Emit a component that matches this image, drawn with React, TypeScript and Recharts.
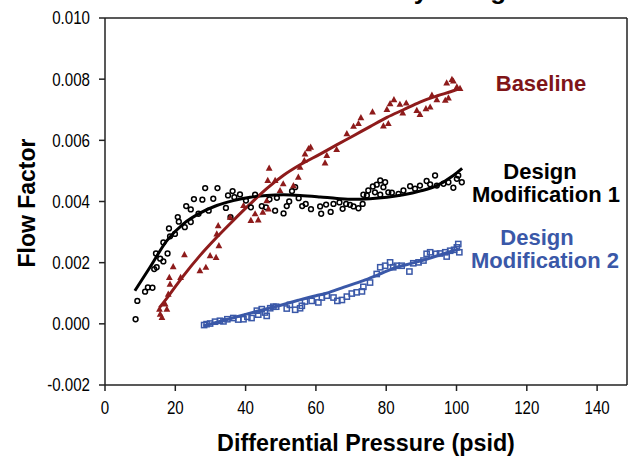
import React from "react";
import { ComposedChart, Line, ReferenceLine, Scatter, XAxis, YAxis } from "recharts";

const RED = "#8E1B1B";
const RED_TEXT = "#7F1518";
const BLUE = "#3A58A8";
const BLACK = "#000000";

const xTicks = [0, 20, 40, 60, 80, 100, 120, 140];
const yTicks = [-0.002, 0, 0.002, 0.004, 0.006, 0.008, 0.01];

// [differential pressure (psid), flow factor x 1000]
const baselinePoints = [
  [15.5, 0.48], [15.7, 0.32], [16.2, 0.21], [17.1, 0.65], [17.6, 0.48], [18.0, 0.97],
  [18.3, 1.52], [18.5, 1.3], [19.4, 1.87], [21.5, 1.52], [22.6, 2.26], [27.0, 1.74],
  [28.7, 1.85], [29.9, 2.23], [31.6, 2.17], [31.8, 2.94], [32.2, 3.21], [32.4, 2.56],
  [35.6, 3.49], [39.4, 3.87], [41.5, 3.38], [42.7, 3.6], [43.6, 3.4], [44.9, 3.65],
  [46.0, 4.03], [46.3, 4.69], [46.5, 3.76], [46.7, 5.09], [48.4, 4.69], [49.8, 4.36],
  [50.7, 4.58], [53.6, 4.52], [55.0, 4.8], [55.5, 5.12], [56.7, 5.34], [56.9, 5.56],
  [57.9, 5.73], [58.5, 5.78], [62.6, 5.26], [63.1, 5.51], [65.9, 5.7], [68.8, 6.22],
  [70.7, 6.46], [72.1, 6.55], [72.8, 6.74], [76.1, 6.93], [79.2, 6.47], [80.2, 7.01],
  [80.6, 6.55], [81.1, 7.2], [82.2, 7.33], [83.9, 7.18], [84.7, 6.9], [85.7, 7.22],
  [88.7, 6.98], [89.6, 6.85], [91.3, 7.04], [92.5, 7.09], [93.0, 7.48], [94.4, 7.33],
  [96.8, 7.31], [97.2, 7.88], [97.7, 7.39], [98.7, 7.99], [99.1, 7.94], [100.1, 7.75],
  [101.0, 7.7],
];

const mod1Points = [
  [8.7, 0.15], [9.2, 0.75], [11.4, 1.05], [12.2, 1.19], [13.5, 1.18], [14.0, 1.79],
  [14.5, 2.3], [14.7, 1.85], [15.7, 2.13], [16.6, 2.04], [16.6, 2.66], [17.8, 2.3],
  [18.2, 3.12], [18.5, 2.86], [19.9, 2.94], [20.7, 3.49], [21.0, 3.34], [22.7, 3.16],
  [23.1, 3.85], [24.4, 3.74], [24.4, 3.33], [25.3, 4.08], [26.6, 3.6], [27.7, 4.06],
  [28.5, 4.44], [29.5, 3.7], [30.8, 4.09], [32.0, 4.44], [34.4, 3.79], [35.0, 4.2],
  [35.7, 3.49], [36.3, 4.34], [36.8, 4.14], [38.4, 4.23], [40.1, 4.03], [41.5, 3.81],
  [42.7, 4.22], [44.6, 3.85], [45.8, 3.81], [46.8, 4.07], [48.4, 3.7], [48.9, 4.12],
  [50.8, 3.61], [51.7, 3.85], [52.4, 4.0], [53.2, 4.34], [54.1, 4.47], [55.1, 4.11],
  [56.1, 3.85], [57.1, 3.92], [58.6, 3.75], [61.2, 3.84], [61.5, 3.6], [62.9, 3.9],
  [64.2, 3.66], [65.0, 3.92], [66.7, 3.97], [67.6, 3.76], [68.6, 3.92], [69.7, 3.89],
  [70.7, 3.84], [72.1, 3.78], [73.3, 3.92], [73.5, 4.22], [74.5, 4.2], [74.9, 4.36],
  [76.2, 4.49], [76.8, 4.3], [77.3, 4.55], [78.3, 4.69], [78.3, 4.22], [79.2, 4.47],
  [79.7, 4.63], [80.6, 4.3], [81.6, 4.29], [83.5, 4.25], [84.9, 4.36], [86.8, 4.5],
  [88.2, 4.42], [89.6, 4.52], [91.5, 4.67], [92.5, 4.56], [93.9, 4.85], [94.4, 4.52],
  [96.3, 4.58], [97.7, 4.63], [99.1, 4.45], [100.1, 4.74], [100.5, 4.85], [101.5, 4.63],
];

const mod2Points = [
  [28.2, -0.04], [28.9, -0.01], [29.9, 0.01], [31.3, 0.07], [32.7, 0.1], [33.7, 0.08],
  [34.8, 0.15], [36.5, 0.19], [37.9, 0.14], [39.4, 0.15], [40.5, 0.23], [41.7, 0.19],
  [43.2, 0.43], [43.6, 0.3], [44.6, 0.48], [45.5, 0.37], [46.0, 0.26], [47.0, 0.51],
  [47.9, 0.56], [48.7, 0.56], [51.7, 0.5], [52.6, 0.62], [54.1, 0.46], [55.5, 0.51],
  [56.0, 0.59], [56.9, 0.73], [58.8, 0.75], [60.7, 0.7], [61.7, 0.86], [63.1, 0.92],
  [65.0, 0.86], [66.1, 0.75], [67.4, 0.78], [68.8, 0.89], [70.2, 0.99], [71.6, 1.03],
  [73.1, 1.06], [73.5, 1.21], [75.4, 1.35], [77.3, 1.63], [78.3, 1.85], [79.7, 1.9],
  [81.1, 2.01], [82.0, 1.85], [83.0, 1.9], [84.4, 1.9], [86.6, 1.71], [87.7, 1.98],
  [89.2, 2.01], [90.6, 2.07], [91.5, 2.29], [92.5, 2.34], [94.2, 2.29], [95.3, 2.3],
  [96.8, 2.34], [97.2, 2.2], [98.2, 2.39], [99.3, 2.42], [100.1, 2.5], [100.5, 2.61],
  [100.8, 2.34],
];

// fitted trend curves
const baselineFit = [
  [15.5, 0.53], [18, 0.9], [22.3, 1.57], [27, 2.23], [31.8, 2.83], [36.5, 3.38],
  [41.3, 3.92], [46, 4.42], [50.7, 4.85], [55.5, 5.2], [61.2, 5.55], [65.9, 5.85],
  [70.7, 6.15], [75.4, 6.45], [80.2, 6.75], [84.9, 7.0], [89.6, 7.25], [94.4, 7.45],
  [99.1, 7.62], [101, 7.7],
];

const mod1Fit = [
  [8.5, 1.08], [12.8, 1.85], [17.6, 2.72], [22.3, 3.27], [27, 3.62], [31.8, 3.87],
  [36.5, 4.03], [41.3, 4.14], [46, 4.2], [50.7, 4.22], [55.5, 4.2], [61.2, 4.15],
  [66, 4.1], [70.7, 4.07], [75.4, 4.09], [80.2, 4.14], [84.9, 4.22], [89.6, 4.34],
  [94.4, 4.52], [99.1, 4.85], [101.6, 5.08],
];

const mod2Fit = [
  [28, -0.07], [35, 0.15], [40, 0.31], [45, 0.46], [50, 0.61], [55, 0.77], [60, 0.92],
  [63, 1.0], [68, 1.2], [73.5, 1.41], [78, 1.62], [83, 1.85], [88, 2.0], [93, 2.17],
  [97, 2.32], [100.7, 2.45],
];

const toRows = (pts: number[][]) => pts.map(([x, y]) => ({ x, y: y / 1000 }));

const Triangle = ({ cx, cy }: any) => (
  <polygon
    points={`${cx},${cy - 3.6} ${cx - 3.4},${cy + 2.6} ${cx + 3.4},${cy + 2.6}`}
    fill={RED}
  />
);

const Ring = ({ cx, cy }: any) => (
  <circle cx={cx} cy={cy} r={2.4} fill="none" stroke={BLACK} strokeWidth={1.5} />
);

const Square = ({ cx, cy }: any) => (
  <rect x={cx - 2.6} y={cy - 2.6} width={5.2} height={5.2} fill="none" stroke={BLUE} strokeWidth={1.5} />
);

const tickFont = "'Liberation Sans Narrow', 'Arial Narrow', Arial, sans-serif";
const bold = { fontFamily: "'Liberation Sans', Arial, sans-serif", fontWeight: 700 };

// narrow-looking tick labels like the original
const XTick = ({ x, y, payload }: any) => (
  <g transform={`translate(${x},${y})`}>
    <text x={0} y={0} dy="0.75em" textAnchor="middle" fontSize={18} fontFamily={tickFont} transform="scale(0.84,1)">
      {payload.value}
    </text>
  </g>
);

const YTick = ({ x, y, payload }: any) => (
  <g transform={`translate(${x},${y})`}>
    <text x={0} y={0} dy="0.36em" textAnchor="end" fontSize={18} fontFamily={tickFont} transform="scale(0.84,1)">
      {Number(payload.value).toFixed(3)}
    </text>
  </g>
);

const App = () => {
  return (
    <div style={{ position: "absolute", left: 0, top: 0, width: 631, height: 460, background: "#fff" }}>
      <ComposedChart width={631} height={460} margin={{ top: 18, right: 4, bottom: 25, left: 45 }}>
        <XAxis
          type="number"
          dataKey="x"
          domain={[0, 148.5]}
          ticks={xTicks}
          allowDataOverflow
          height={50}
          tick={<XTick />}
          tickSize={6}
          tickMargin={9}
          stroke="#222"
          strokeWidth={1.5}
        />
        <YAxis
          type="number"
          dataKey="y"
          domain={[-0.002, 0.01]}
          ticks={yTicks}
          width={60}
          tick={<YTick />}
          tickSize={6}
          tickMargin={9}
          stroke="#222"
          strokeWidth={1.5}
        />
        <ReferenceLine y={0.01} stroke="#222" strokeWidth={1.5} />
        <ReferenceLine x={148.5} stroke="#222" strokeWidth={1.5} />
        <Scatter data={toRows(mod2Points)} dataKey="y" shape={<Square />} isAnimationActive={false} />
        <Scatter data={toRows(mod1Points)} dataKey="y" shape={<Ring />} isAnimationActive={false} />
        <Scatter data={toRows(baselinePoints)} dataKey="y" shape={<Triangle />} isAnimationActive={false} />
        <Line data={toRows(mod2Fit)} dataKey="y" type="monotone" stroke={BLUE} strokeWidth={3} dot={false} isAnimationActive={false} />
        <Line data={toRows(mod1Fit)} dataKey="y" type="monotone" stroke={BLACK} strokeWidth={3} dot={false} isAnimationActive={false} />
        <Line data={toRows(baselineFit)} dataKey="y" type="monotone" stroke={RED} strokeWidth={3} dot={false} isAnimationActive={false} />
      </ComposedChart>
      <svg width={631} height={460} style={{ position: "absolute", left: 0, top: 0, pointerEvents: "none" }}>
        {/* title is cropped at the top edge in the original */}
        <text x={522} y={-1} textAnchor="end" fontSize={26} {...bold}>Flow Factor by Design</text>
        <text x={27} y={203} transform="rotate(-90 27 203)" textAnchor="middle" dominantBaseline="central" fontSize={23} {...bold}>
          Flow Factor
        </text>
        <text x={366} y={451} textAnchor="middle" fontSize={23.3} {...bold}>Differential Pressure (psid)</text>
        <g fontSize={22} {...bold}>
          <text x={541} y={91} textAnchor="middle" fill={RED_TEXT}>Baseline</text>
          <text x={540} y={179} textAnchor="middle" fill={BLACK}>Design</text>
          <text x={546} y={202} textAnchor="middle" fill={BLACK}>Modification 1</text>
          <text x={537} y={245} textAnchor="middle" fill={BLUE}>Design</text>
          <text x={545} y={268} textAnchor="middle" fill={BLUE}>Modification 2</text>
        </g>
      </svg>
    </div>
  );
};

export default App;
